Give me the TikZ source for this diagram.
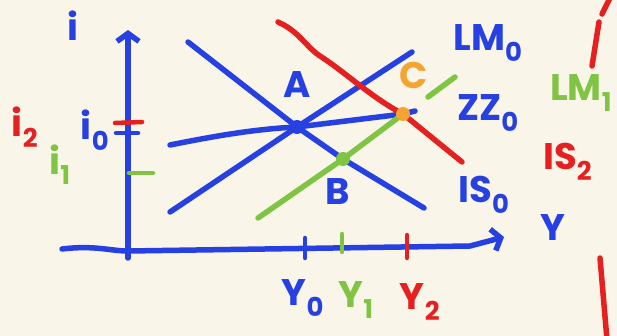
\documentclass[tikz,border=0pt]{standalone}
\usepackage{fontspec}
\setmainfont{Poppins}
\usepackage{tikz}
\usetikzlibrary{arrows.meta,positioning}
\definecolor{paper}{RGB}{249,245,233}
\definecolor{penblue}{RGB}{38,64,226}
\definecolor{penred}{RGB}{228,32,32}
\definecolor{pengreen}{RGB}{128,196,68}
\definecolor{penorange}{RGB}{244,164,48}

\begin{document}
\begin{tikzpicture}[x=1pt,y=-1pt,
    pen/.style={line width=5.5pt,line cap=round,line join=round},
    tick/.style={pen,line width=4.5pt},
    barb/.style={-{Straight Barb[length=8pt,width=22pt]}},
    dot/.style={circle,fill,inner sep=0pt,minimum size=14pt},
    lbl/.style={inner sep=0pt,font=\fontsize{37}{37}\selectfont\bfseries}]
  \fill[paper] (0,0) rectangle (617,336);
  \useasboundingbox (0,0) rectangle (617,336);

  % axes
  \coordinate (o) at (128,251);
  \coordinate (ibot) at (128,258);
  \coordinate (itop) at (128,30);
  \coordinate (ybeg) at (62,249);
  \coordinate (yend) at (504,237);
  \draw[pen,penblue,barb] (ibot) -- (itop);
  \draw[pen,penblue,barb] (ybeg) .. controls (95,245) and (110,251) .. (o)
    -- (470,246) -- (yend);

  % equilibrium points
  \coordinate (pA) at (297,127);
  \coordinate (pB) at (343,159);
  \coordinate (pC) at (403,114);

  % IS0, LM0, ZZ0
  \draw[pen,penblue] (188,42) -- (pA) -- (pB) -- (424,208);
  \draw[pen,penblue] (170,212) -- (pA) -- (412,52);
  \draw[pen,penblue] (170,145) .. controls (215,136) and (255,129) .. (pA)
    -- (pC) -- (415,111);
  % LM1
  \draw[pen,pengreen] (258,218) -- (pB) -- (pC);
  \draw[pen,pengreen] (428,97) -- (455,77);
  % IS2
  \draw[pen,penred] (278,22) .. controls (300,32) and (305,46) .. (320,56)
    .. controls (345,72) and (372,98) .. (pC) -- (462,162);

  \node[dot,penblue] (A) at (pA) {};
  \node[dot,pengreen] (B) at (pB) {};
  \node[dot,penorange] (C) at (pC) {};
  \node[lbl,penblue,above=22pt of A] (labA) {A};
  \node[lbl,penblue,below=12pt of B,xshift=-5pt] (labB) {B};
  \node[lbl,penorange,above=18pt of C,xshift=11pt] (labC) {C};

  % ticks
  \draw[tick,penred] (115,123) -- (142,122);
  \draw[tick,penblue] (116,133) -- (138,133);
  \draw[tick,pengreen] (129,173) -- (153,173);
  \draw[tick,penblue] (305,238) -- (305,258);
  \draw[tick,pengreen] (342,234) -- (342,252);
  \draw[tick,penred] (407,235) -- (407,258);

  % strokes at the right edge
  \draw[pen,penred] (610,-2) -- (602,14);
  \draw[pen,penred] (599,22) -- (592,66);
  \draw[pen,penred] (600,258) -- (607,340);

  % labels
  \node[lbl,penblue] (li) at (73,26) {i};
  \node[lbl,penred] (li2) at (25,127) {i\textsubscript{2}};
  \node[lbl,pengreen] (li1) at (60,165) {i\textsubscript{1}};
  \node[lbl,penblue] (li0) at (95,130) {i\textsubscript{0}};
  \node[lbl,penblue] (lY) at (553,228) {Y};
  \node[lbl,penblue] (lY0) at (303,298) {Y\textsubscript{0}};
  \node[lbl,pengreen] (lY1) at (356,300) {Y\textsubscript{1}};
  \node[lbl,penred] (lY2) at (420,302) {Y\textsubscript{2}};
  \node[lbl,penblue] (lLM0) at (488,43) {LM\textsubscript{0}};
  \node[lbl,penblue] (lZZ0) at (488,113) {ZZ\textsubscript{0}};
  \node[lbl,pengreen,anchor=west] (lLM1) at (550,93) {LM\textsubscript{1}};
  \node[lbl,penred,anchor=west] (lIS2) at (543,162) {IS\textsubscript{2}};
  \node[lbl,penblue] (lIS0) at (484,195) {IS\textsubscript{0}};
\end{tikzpicture}
\end{document}
